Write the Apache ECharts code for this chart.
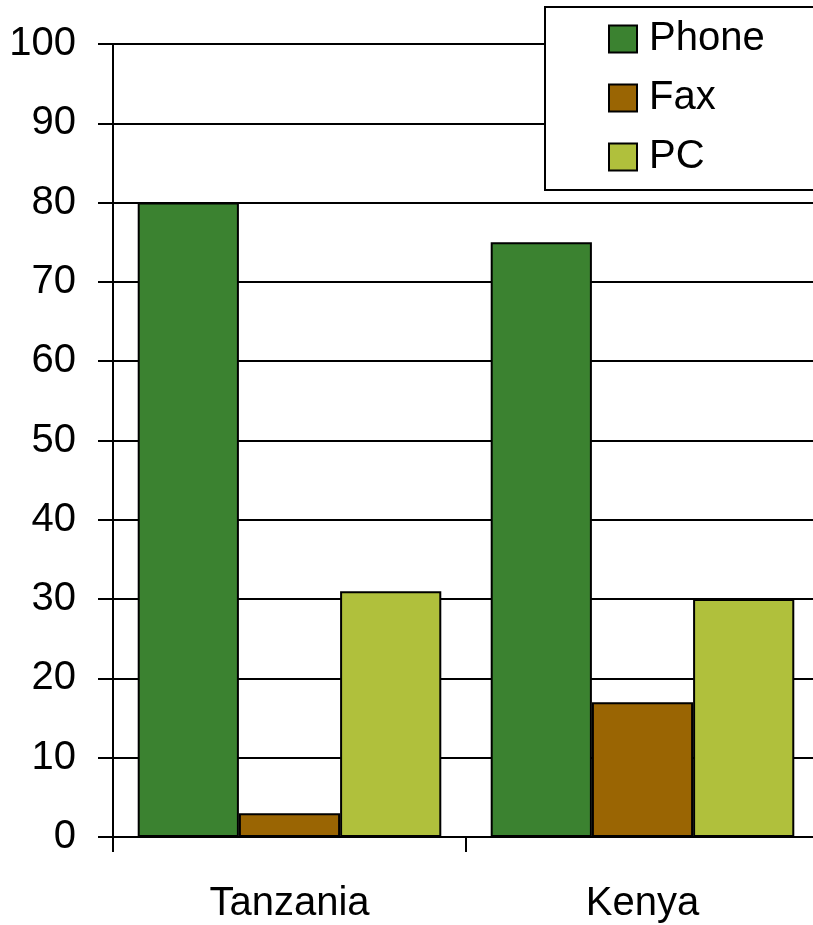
<!DOCTYPE html>
<html>
<head>
<meta charset="utf-8">
<script src="https://cdn.jsdelivr.net/npm/echarts@6/dist/echarts.min.js"></script>
<style>
  html, body { margin: 0; padding: 0; background: #fff; overflow: hidden; }
  #chart { width: 830px; height: 925px; }
</style>
</head>
<body>
<div id="chart"></div>
<script>
// Device usage by country (percent)
const categories = ['Tanzania', 'Kenya'];
const phone = [80, 75];
const fax = [3, 17];
const pc = [31, 30];
const yTicks = [0, 100, 10];

const font = '"Liberation Sans", Arial, sans-serif';
const barBorder = { borderColor: '#000', borderWidth: 2 };

const chart = echarts.init(document.getElementById('chart'), null, { renderer: 'canvas' });
chart.setOption({
  animation: false,
  backgroundColor: '#fff',
  textStyle: { fontFamily: font },
  grid: { left: 113, top: 44, width: 706, bottom: 88, containLabel: false },
  legend: {
    orient: 'vertical',
    left: 545,
    top: 7,
    padding: [12, 70, 13, 63],
    itemGap: 19,
    itemWidth: 28,
    itemHeight: 27,
    backgroundColor: '#fff',
    borderColor: '#000',
    borderWidth: 2,
    icon: 'rect',
    textStyle: { fontSize: 40, color: '#000', fontFamily: font, lineHeight: 40, padding: [0, 0, 0, 7] },
    data: ['Phone', 'Fax', 'PC']
  },
  xAxis: {
    type: 'category',
    data: categories,
    boundaryGap: true,
    axisLine: { lineStyle: { color: '#000', width: 2 } },
    axisTick: { show: true, length: 15, lineStyle: { color: '#000', width: 2 } },
    axisLabel: { fontSize: 40, color: '#000', fontFamily: font, margin: 47 }
  },
  yAxis: {
    type: 'value',
    min: yTicks[0],
    max: yTicks[1],
    interval: yTicks[2],
    axisLine: { show: true, lineStyle: { color: '#000', width: 2 } },
    axisTick: { show: true, length: 15, lineStyle: { color: '#000', width: 2 } },
    splitLine: { show: true, lineStyle: { color: '#000', width: 2 } },
    axisLabel: { fontSize: 40, color: '#000', fontFamily: font, margin: 37 }
  },
  series: [
    { name: 'Phone', type: 'bar', data: phone, barGap: '0%', barCategoryGap: '14%',
      itemStyle: Object.assign({ color: '#3b8230' }, barBorder) },
    { name: 'Fax', type: 'bar', data: fax, barGap: '0%', barCategoryGap: '14%',
      itemStyle: Object.assign({ color: '#9a6503' }, barBorder) },
    { name: 'PC', type: 'bar', data: pc, barGap: '0%', barCategoryGap: '14%',
      itemStyle: Object.assign({ color: '#b0c03c' }, barBorder) }
  ]
});
</script>
</body>
</html>
